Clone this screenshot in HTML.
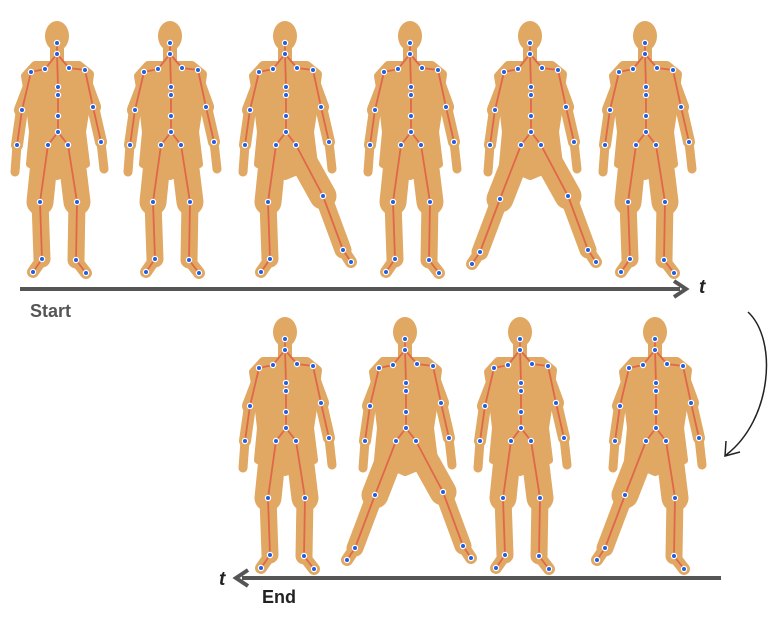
<!DOCTYPE html>
<html><head><meta charset="utf-8"><style>
html,body{margin:0;padding:0;background:#fff;}
svg{display:block;font-family:"Liberation Sans",sans-serif;}
</style></head><body>
<svg id="s" width="779" height="621" viewBox="0 0 779 621">
<g id="figs"></g>
<g>
<line x1="20" y1="289" x2="680" y2="289" stroke="#555" stroke-width="4"/>
<polyline points="674,281 686,289 674,297" fill="none" stroke="#555" stroke-width="4" stroke-linejoin="miter"/>
<text x="699" y="293" font-size="19" font-weight="bold" font-style="italic" fill="#222">t</text>
<text x="30" y="317" font-size="18" font-weight="bold" fill="#555">Start</text>
</g>
<g>
<line x1="721" y1="578" x2="242" y2="578" stroke="#555" stroke-width="4"/>
<polyline points="248,570 236,578 248,586" fill="none" stroke="#555" stroke-width="4"/>
<text x="219" y="585" font-size="19" font-weight="bold" font-style="italic" fill="#222">t</text>
<text x="262" y="603" font-size="18" font-weight="bold" fill="#222">End</text>
</g>
<g>
<path d="M748,312 C778,340 772,420 726,455" fill="none" stroke="#222" stroke-width="1.5"/>
<polyline points="726,441 725,456 740,452" fill="none" stroke="#222" stroke-width="1.5"/>
</g>
</svg>
<script>
const figX=[57,170,285,410,530,645,285,405,520,655];
const figY=[14,14,14,14,14,14,310,310,310,310];
const legL=[0,0,0,0,1,0,0,1,0,1];
const legR=[0,0,1,0,1,0,0,1,0,0];
const NS="http://www.w3.org/2000/svg";
const g=document.getElementById('figs');
const BODY="#E0A862";
function mk(tag,attrs,parent){const e=document.createElementNS(NS,tag);for(const k in attrs)e.setAttribute(k,attrs[k]);parent.appendChild(e);return e;}
function joints(cx,ty,sl,sr){
 const P=(dx,dy)=>[cx+dx,ty+dy];
 const j={n1:P(0,29),n2:P(0,40),shL:P(-26,58),clL:P(-12,55),clR:P(12,54),shR:P(28,56),
 s1:P(1,73),s2:P(1,81),s3:P(1,102),pv:P(1,118),hL:P(-9,131),hR:P(11,131),
 eL:P(-35,96),eR:P(36,93),wL:P(-40,131),wR:P(44,128),htL:P(-42,158),htR:P(47,155)};
 if(sl){j.kL=P(-30,185);j.aL=P(-50,238);j.tL=P(-58,250);}else{j.kL=P(-17,188);j.aL=P(-15,245);j.tL=P(-24,258);}
 if(sr){j.kR=P(38,182);j.aR=P(58,236);j.tR=P(66,248);}else{j.kR=P(20,188);j.aR=P(19,246);j.tR=P(29,259);}
 return j;
}
function line(a,b,w,c,parent){mk('line',{x1:a[0],y1:a[1],x2:b[0],y2:b[1],stroke:c,'stroke-width':w,'stroke-linecap':'round'},parent);}
for(let i=0;i<figX.length;i++){
 const cx=figX[i],ty=figY[i];
 const f=mk('g',{},g);
 
 
 const j=joints(cx,ty,legL[i],legR[i]);
 const body=mk('g',{},f);
 
 
 mk('ellipse',{cx:cx,cy:ty+22,rx:12,ry:15,fill:BODY},body);
 mk('rect',{x:cx-7,y:ty+30,width:14,height:22,fill:BODY},body);
 const pts=[[-32,62],[-22,51],[22,51],[33,60],[29,92],[25,118],[29,150],[0,162],[-27,150],[-24,118],[-27,92]].map(p=>(cx+p[0])+','+(ty+p[1])).join(' ');
 mk('polygon',{points:pts,fill:BODY,'stroke':BODY,'stroke-width':8,'stroke-linejoin':'round'},body);
 line([j.shL[0]+4,j.shL[1]+4],j.eL,16,BODY,body);line(j.eL,j.wL,12,BODY,body);line(j.wL,j.htL,9,BODY,body);
 line([j.shR[0]-4,j.shR[1]+4],j.eR,16,BODY,body);line(j.eR,j.wR,12,BODY,body);line(j.wR,j.htR,9,BODY,body);
 line([j.hL[0]-3,j.hL[1]+8],j.kL,27,BODY,body);line(j.kL,j.aL,17,BODY,body);line(j.aL,j.tL,12,BODY,body);
 line([j.hR[0]+3,j.hR[1]+8],j.kR,27,BODY,body);line(j.kR,j.aR,17,BODY,body);line(j.aR,j.tR,12,BODY,body);
 const sk=mk('g',{},f);
 
 
 const bones=[['n1','n2'],['n2','clL'],['clL','shL'],['n2','clR'],['clR','shR'],['shL','eL'],['eL','wL'],['shR','eR'],['eR','wR'],
 ['n2','s1'],['s1','s2'],['s2','s3'],['s3','pv'],['pv','hL'],['pv','hR'],['hL','kL'],['kL','aL'],['aL','tL'],['hR','kR'],['kR','aR'],['aR','tR']];
 bones.forEach(b=>line(j[b[0]],j[b[1]],1.8,'#E0674A',sk));
 Object.keys(j).forEach(k=>{if(k.startsWith('ht'))return;
  const d=mk('circle',{cx:j[k][0],cy:j[k][1],r:2.6,fill:'#1f5fe0',stroke:'#fff','stroke-width':1.2},sk);
  
  
 });
}
</script>
</body></html>
